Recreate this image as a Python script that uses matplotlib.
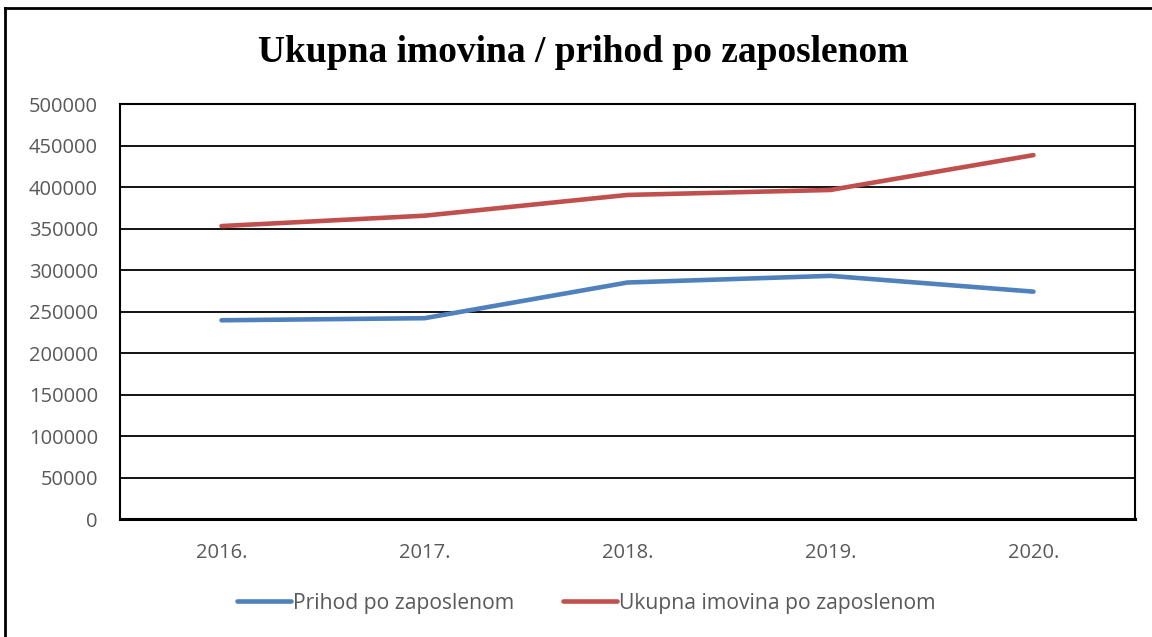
# Ukupna imovina / prihod po zaposlenom - line chart recreation
import matplotlib.pyplot as plt
from matplotlib.lines import Line2D

# ---- DATA ----
years = ["2016.", "2017.", "2018.", "2019.", "2020."]
prihod = [240000, 242500, 285500, 293500, 274500]
imovina = [353500, 366000, 391000, 397000, 439000]
y_ticks = list(range(0, 500001, 50000))

label_font = ["Open Sans", "DejaVu Sans"]
tick_color = "#595959"

fig = plt.figure(figsize=(11.52, 6.37), dpi=100)
ax = fig.add_axes([0.1042, 0.1845, 0.881, 0.6515])

x = range(len(years))
ax.plot(x, prihod, color="#4F81BD", linewidth=3.3,
        solid_capstyle="round", label="Prihod po zaposlenom")
ax.plot(x, imovina, color="#C0504D", linewidth=3.3,
        solid_capstyle="round", label="Ukupna imovina po zaposlenom")

ax.set_xlim(-0.5, len(years) - 0.5)
ax.set_ylim(0, 500000)
ax.set_yticks(y_ticks)
ax.set_yticklabels([str(v) for v in y_ticks])
ax.set_xticks(list(x))
ax.set_xticklabels(years)
ax.tick_params(axis="both", length=0, labelsize=14.5, colors=tick_color)
ax.tick_params(axis="x", pad=17)
ax.tick_params(axis="y", pad=16)
for lbl in ax.get_xticklabels() + ax.get_yticklabels():
    lbl.set_family(label_font)

ax.grid(axis="y", color="black", linewidth=1.3)
ax.set_axisbelow(True)
for side in ["left", "right", "top"]:
    ax.spines[side].set_linewidth(1.5)
    ax.spines[side].set_color("black")
ax.spines["bottom"].set_linewidth(2.2)

fig.text(0.506, 0.918, "Ukupna imovina / prihod po zaposlenom",
         ha="center", va="center", fontsize=27, fontweight="bold",
         family=["Liberation Serif", "DejaVu Serif"])

leg = fig.legend(loc="center", bbox_to_anchor=(0.509, 0.053), ncol=2,
                 frameon=False, handlelength=2.55, handletextpad=0.1,
                 columnspacing=2.3, prop={"family": label_font, "size": 15.2})
for t in leg.get_texts():
    t.set_color(tick_color)

# outer chart border (top and left edges visible)
fig.add_artist(Line2D([5 / 1152, 1.0], [1 - 8 / 637, 1 - 8 / 637],
                      transform=fig.transFigure, color="black", linewidth=2))
fig.add_artist(Line2D([5 / 1152, 5 / 1152], [0, 1 - 8 / 637],
                      transform=fig.transFigure, color="black", linewidth=2))

plt.savefig("out.png", dpi=100)
